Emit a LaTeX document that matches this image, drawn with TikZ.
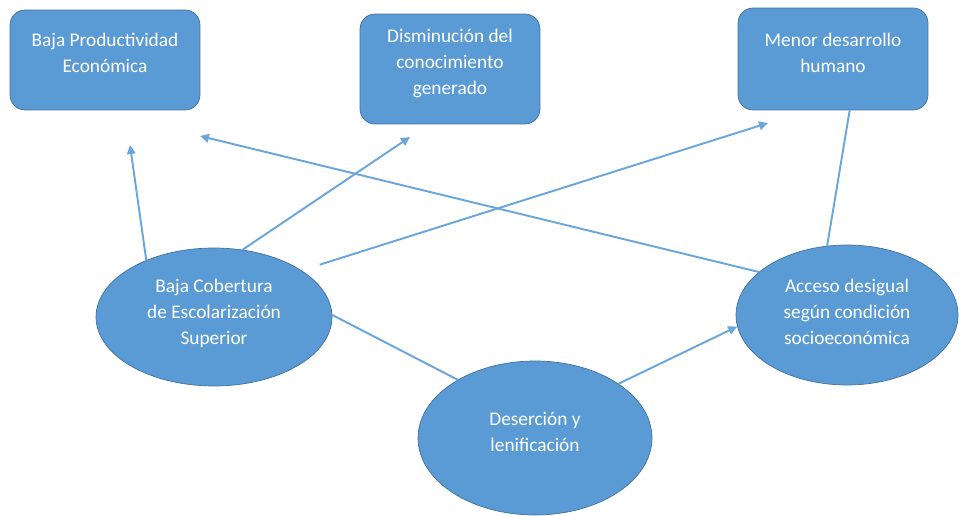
\documentclass[tikz,border=0pt]{standalone}
\usepackage{fontspec}
\setmainfont{Carlito}
\usepackage{tikz}
\usetikzlibrary{shapes.geometric,arrows.meta}
\definecolor{azulrelleno}{HTML}{5B9BD5}
\definecolor{azulborde}{HTML}{41719C}
\definecolor{azullinea}{HTML}{6AA5DB}
\def\letra{\fontsize{11}{14.8}\selectfont}

\begin{document}
\begin{tikzpicture}[x=0.02cm, y=-0.02cm,
	caja/.style={draw=azulborde, fill=azulrelleno, rounded corners=0.3cm, text=white, align=center, inner sep=0pt, font=\letra},
	elipse/.style={ellipse, draw=azulborde, fill=azulrelleno, text=white, align=center, inner sep=0pt, font=\letra},
	linea/.style={draw=azullinea, line width=1.1pt},
	flecha/.style={linea, -{Triangle[length=0.18cm, width=0.17cm]}}]
			%%%%% START %%%%%
			\useasboundingbox (0, 0) rectangle (960, 516);
			
			% efectos
			\node[caja, minimum width=3.8cm, minimum height=2cm, text depth=8pt] (prod) at (105, 60) {Baja Productividad\\Económica};
			\node[caja, minimum width=3.6cm, minimum height=2.2cm, text depth=8.5pt] (conoc) at (450, 69) {Disminución del\\conocimiento\\generado};
			\node[caja, minimum width=3.8cm, minimum height=2.04cm, text depth=7pt] (desarr) at (833, 59) {Menor desarrollo\\humano};
			
			% causas
			\node[elipse, minimum width=4.72cm, minimum height=2.76cm, text depth=5.5pt] (cobert) at (214, 317) {Baja Cobertura\\de Escolarización\\Superior};
			\node[elipse, minimum width=4.44cm, minimum height=2.8cm, text depth=4pt] (acceso) at (847, 315) {Acceso desigual\\según condición\\socioeconómica};
			\node[elipse, minimum width=4.68cm, minimum height=3.08cm, text depth=6.5pt] (desercion) at (535, 438) {Deserción y\\lenificación};
			
			% puntas libres
			\coordinate (p1) at (130, 145);
			\coordinate (p2) at (410, 137);
			\coordinate (p3) at (768, 123);
			\coordinate (p4) at (200, 136);
			
			\draw[flecha] (cobert.140) -- (p1);
			\draw[flecha] (cobert.67) -- (p2);
			\draw[flecha, shorten <=0.38cm] (cobert.28) -- (p3);
			\draw[flecha] (acceso.154) -- (p4);
			\draw[linea] (desarr.-72) -- (acceso.106);
			\draw[linea] (cobert.1) -- (desercion.143);
			\draw[flecha] (desercion.33) -- (acceso.186);
			%%%%% END %%%%%
\end{tikzpicture}
\end{document}
